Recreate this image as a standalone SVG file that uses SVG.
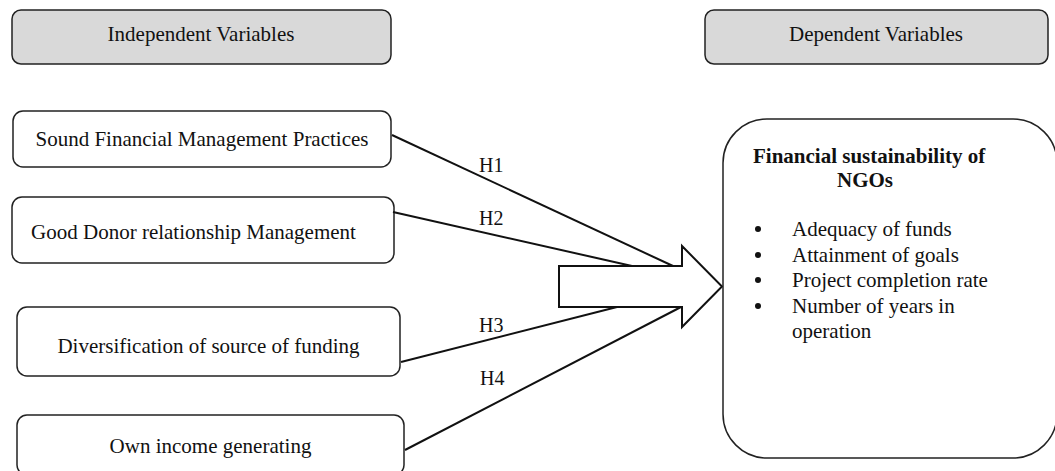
<svg xmlns="http://www.w3.org/2000/svg" width="1055" height="471" viewBox="0 0 1055 471">
<style>
text{font-family:"Liberation Serif","Times New Roman",serif;fill:#111;}
.t{font-size:21px;}
.m{text-anchor:middle;}
.h{font-size:20px;}
.b{font-weight:bold;}
.hdr{fill:#d9d9d9;stroke:#222;stroke-width:1.5;}
.box{fill:#fff;stroke:#222;stroke-width:1.5;}
.ln{stroke:#111;stroke-width:2;fill:none;}
</style>
<rect width="1055" height="471" fill="#fff"/>
<g id="hdr-independent">
<rect class="hdr" x="12" y="10" width="379" height="54" rx="9"/>
<text class="t m" x="201" y="41">Independent Variables</text>
</g>
<g id="hdr-dependent">
<rect class="hdr" x="705" y="10" width="343" height="54" rx="9"/>
<text class="t m" x="876" y="41">Dependent Variables</text>
</g>
<g id="n-sound">
<rect class="box" x="13" y="111" width="378" height="56" rx="10"/>
<text class="t m" x="202" y="146">Sound Financial Management Practices</text>
</g>
<g id="n-donor">
<rect class="box" x="12" y="197" width="382" height="66" rx="10"/>
<text class="t m" x="193.5" y="239">Good Donor relationship Management</text>
</g>
<g id="n-divers">
<rect class="box" x="17" y="307" width="383" height="69" rx="10"/>
<text class="t m" x="208.5" y="353">Diversification of source of funding</text>
</g>
<g id="n-own">
<rect class="box" x="17" y="415" width="387" height="60" rx="10"/>
<text class="t m" x="210.5" y="453">Own income generating</text>
</g>
<g id="connectors">
<line class="ln" x1="392" y1="135" x2="673" y2="266"/>
<line class="ln" x1="393" y1="212" x2="632" y2="266"/>
<line class="ln" x1="401" y1="362" x2="617" y2="307"/>
<line class="ln" x1="405" y1="450" x2="681" y2="307"/>
<polygon points="559,266 682,266 682,246 722,286.5 682,327 682,307 559,307" fill="#fff" stroke="#111" stroke-width="2"/>
<text class="h" x="479" y="172">H1</text>
<text class="h" x="479" y="225">H2</text>
<text class="h" x="479" y="332">H3</text>
<text class="h" x="480" y="385">H4</text>
</g>
<g id="n-dependent">
<rect class="box" x="723" y="119" width="334" height="339" rx="44"/>
<text class="t b" x="753" y="163">Financial sustainability of</text>
<text class="t b" x="837" y="187">NGOs</text>
<g fill="#111">
<circle cx="758" cy="229" r="3"/>
<circle cx="758" cy="255" r="3"/>
<circle cx="758" cy="280" r="3"/>
<circle cx="758" cy="306" r="3"/>
</g>
<text class="t" x="792" y="236">Adequacy of funds</text>
<text class="t" x="792" y="261.5">Attainment of goals</text>
<text class="t" x="792" y="287">Project completion rate</text>
<text class="t" x="792" y="312.5">Number of years in</text>
<text class="t" x="792" y="338">operation</text>
</g>
</svg>
